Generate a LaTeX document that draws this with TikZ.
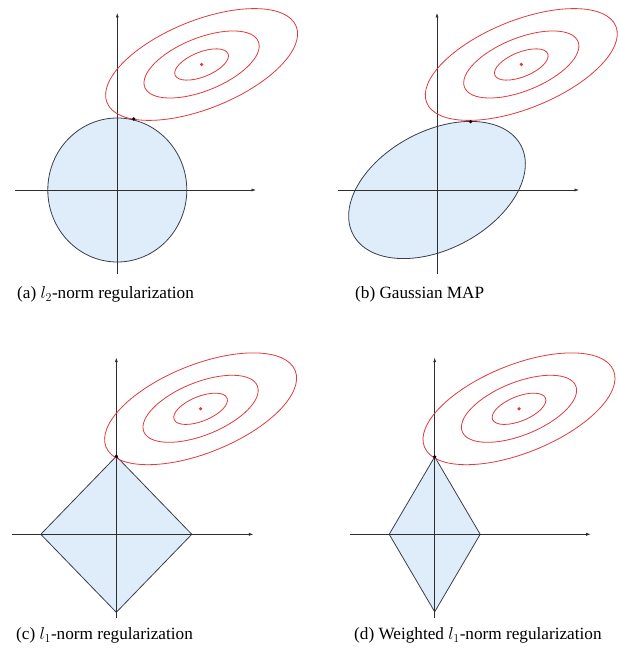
\documentclass[tikz,border=0pt]{standalone}
\usepackage{fontspec}
\setmainfont{Liberation Serif}
\usetikzlibrary{arrows.meta}
\definecolor{BallFill}{HTML}{DFEDFA}
\definecolor{BallEdge}{HTML}{3A3F48}
\definecolor{LossRed}{HTML}{E0393E}
\definecolor{AxisInk}{HTML}{2E2E2E}
\tikzset{
  axisline/.style={-{Latex[length=4.5pt,width=3.2pt]}, draw=AxisInk, line width=0.7pt},
  ball/.style={draw=BallEdge, fill=BallFill, line width=0.8pt},
  contour/.style={draw=LossRed, line width=0.8pt},
  touchdot/.style={fill=black},
  centredot/.style={fill=LossRed},
  caption/.style={anchor=base west, inner sep=0pt, font=\fontsize{17.2}{20}\selectfont},
}

\begin{document}
\begin{tikzpicture}[x=1pt, y=1pt]
    \useasboundingbox (0,0) rectangle (618,650);
    % (a) circle
    \begin{scope}[shift={(117.3,460)}]
      \coordinate (ca) at (84.3,125.5);
      \draw[ball] (0,0) ellipse [x radius=69.5, y radius=72];
      \draw[axisline] (-102.3,0) -- (138.7,0);
      \draw[axisline] (0,-84) -- (0,177);
      \foreach \s in {1,0.6,0.28}
        \draw[contour, rotate around={22:(ca)}] (ca) ellipse [x radius=102*\s, y radius=44*\s];
      \fill[centredot] (ca) circle (1.8);
      \fill[touchdot] (16.4,71) circle (1.8);
    \end{scope}
    % (b) gaussian
    \begin{scope}[shift={(437,460)}]
      \coordinate (cb) at (84.3,125.5);
      \draw[ball, rotate=28] (0,0) ellipse [x radius=95, y radius=59];
      \draw[axisline] (-99,0) -- (142,0);
      \draw[axisline] (0,-84) -- (0,177);
      \foreach \s in {1,0.6,0.28}
        \draw[contour, rotate around={22:(cb)}] (cb) ellipse [x radius=102*\s, y radius=44*\s];
      \fill[centredot] (cb) circle (1.8);
      \fill[touchdot] (33.7,68.3) circle (1.8);
    \end{scope}
    % (c) diamond
    \begin{scope}[shift={(116.3,115.7)}]
      \coordinate (cc) at (84.3,125.5);
      \draw[ball] (0,78) -- (75.5,0) -- (0,-78) -- (-75.5,0) -- cycle;
      \draw[axisline] (-104,0) -- (137,0);
      \draw[axisline] (0,-83.7) -- (0,176.6);
      \foreach \s in {1,0.6,0.28}
        \draw[contour, rotate around={22:(cc)}] (cc) ellipse [x radius=102*\s, y radius=44*\s];
      \fill[centredot] (cc) circle (1.8);
      \fill[touchdot] (0,78) circle (1.8);
    \end{scope}
    % (d) weighted diamond
    \begin{scope}[shift={(434.7,115.7)}]
      \coordinate (cd) at (84.3,125.5);
      \draw[ball] (0,77.5) -- (45.5,0) -- (0,-77.5) -- (-45.5,0) -- cycle;
      \draw[axisline] (-85,0) -- (156,0);
      \draw[axisline] (0,-83.7) -- (0,176.6);
      \foreach \s in {1,0.6,0.28}
        \draw[contour, rotate around={22:(cd)}] (cd) ellipse [x radius=102*\s, y radius=44*\s];
      \fill[centredot] (cd) circle (1.8);
      \fill[touchdot] (0,77.5) circle (1.8);
    \end{scope}
    \node[caption] (capa) at (17,351) {(a) $l_2$-norm regularization};
    \node[caption] (capb) at (355,351) {(b) Gaussian MAP};
    \node[caption] (capc) at (16,10) {(c) $l_1$-norm regularization};
    \node[caption] (capd) at (354,10) {(d) Weighted $l_1$-norm regularization};
  \end{tikzpicture}
\end{document}
